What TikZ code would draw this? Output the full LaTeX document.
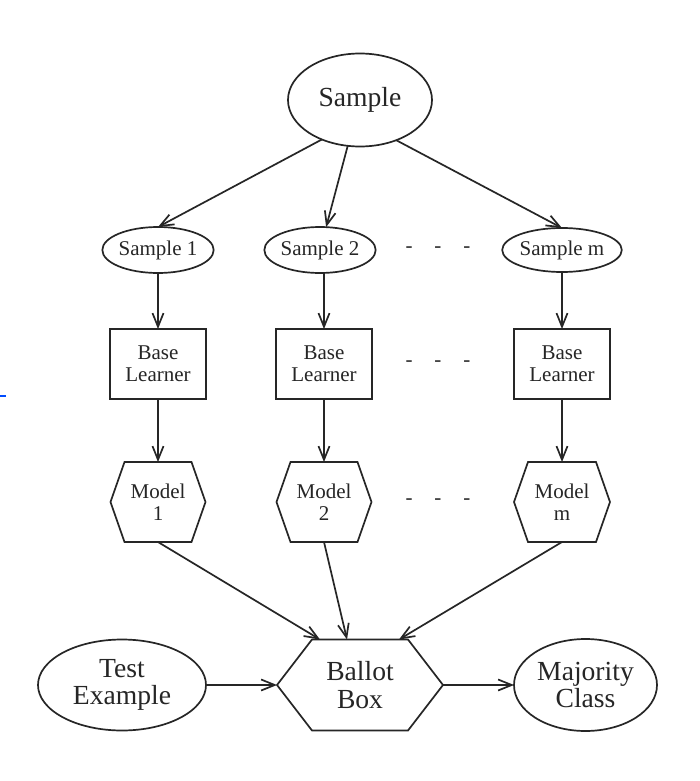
\documentclass[tikz,border=0pt]{standalone}
\usepackage{fontspec}
\setmainfont{Liberation Serif}
\usetikzlibrary{arrows.meta,calc,shapes.geometric}
\definecolor{ink}{HTML}{262626}
\tikzset{
  every node/.style={inner sep=0pt, outer sep=0pt, text=ink},
  oval/.style={ellipse, draw=ink, line width=0.85pt, align=center},
  bigtext/.style={font=\fontsize{13.8pt}{13.6pt}\selectfont},
  smalltext/.style={font=\fontsize{10.5pt}{11.2pt}\selectfont},
  learnerbox/.style={rectangle, draw=ink, line width=0.85pt, align=center,
    minimum width=48pt, minimum height=35pt, smalltext},
  hexholder/.style={rectangle, draw=none, align=center},
  hexline/.style={draw=ink, line width=0.85pt, line join=miter},
  arr/.style={draw=ink, line width=0.85pt, -{Straight Barb[length=6.8pt,width=5.5pt,line width=0.85pt]}},
  dots/.style={smalltext}
}
\newcommand{\hexdraw}[2]{%
  \draw[hexline] (#1.west) -- ($(#1.north west)+(#2,0)$) -- ($(#1.north east)+(-#2,0)$)
    -- (#1.east) -- ($(#1.south east)+(-#2,0)$) -- ($(#1.south west)+(#2,0)$) -- cycle;}
\begin{document}
\begin{tikzpicture}[x=0.5pt,y=-0.5pt]
\useasboundingbox (0,0) rectangle (700,781);
\fill[white] (0,0) rectangle (700,781);

% top sample
\node[oval, bigtext, minimum width=72pt, minimum height=46.5pt] (s) at (360,100) {Sample};

% samples
\node[oval, smalltext, minimum width=54pt, minimum height=23pt] (s1) at (158,250) {Sample 1};
\node[oval, smalltext, minimum width=49pt, minimum height=23pt] (s2) at (320,250) {Sample 2};
\node[oval, smalltext, minimum width=54pt, minimum height=22pt] (s3) at (562,250) {Sample m};

% base learners
\node[learnerbox] (b1) at (158,364) {Base\\Learner};
\node[learnerbox] (b2) at (324,364) {Base\\Learner};
\node[learnerbox] (b3) at (562,364) {Base\\Learner};

% models
\node[hexholder, smalltext, minimum width=47.5pt, minimum height=40pt] (m1) at (158,502) {Model\\1};
\node[hexholder, smalltext, minimum width=47.5pt, minimum height=40pt] (m2) at (324,502) {Model\\2};
\node[hexholder, smalltext, minimum width=48pt, minimum height=40pt] (m3) at (562,502) {Model\\m};
\hexdraw{m1}{14}
\hexdraw{m2}{14}
\hexdraw{m3}{14}

% ballot box
\node[hexholder, bigtext, minimum width=83pt, minimum height=45.5pt] (bb) at (360,685) {Ballot\\Box};
\hexdraw{bb}{35}

% test example and majority class
\node[oval, bigtext, minimum width=84pt, minimum height=45.5pt] (te) at (122,685) {Test\\Example};
\node[oval, bigtext, minimum width=71.5pt, minimum height=46pt] (mc) at (585.5,685) {Majority\\Class};

% dots
\node[dots] (d1) at (438,250) {-\hspace{11pt}-\hspace{11pt}-};
\node[dots] (d2) at (438,364) {-\hspace{11pt}-\hspace{11pt}-};
\node[dots] (d3) at (438,502) {-\hspace{11pt}-\hspace{11pt}-};

% connectors
\draw[arr] (s.226) -- (s1.north);
\draw[arr] (s.255) -- (s2.75);
\draw[arr] (s.312) -- (s3.north);

\draw[arr] (s1.south) -- (b1.north);
\draw[arr] (b2.north |- s2.south) -- (b2.north);
\draw[arr] (s3.south) -- (b3.north);

\draw[arr] (b1.south) -- (m1.north);
\draw[arr] (b2.south) -- (m2.north);
\draw[arr] (b3.south) -- (m3.north);

\draw[arr] (m1.south) -- ($(bb.north west)+(43,0)$);
\draw[arr] (m2.south) -- ($(bb.north west)+(70,0)$);
\draw[arr] (m3.south) -- ($(bb.north west)+(122,0)$);

\draw[arr] (te.east) -- (bb.west);
\draw[arr] (bb.east) -- (mc.west);

% small blue mark at the left edge
\coordinate (bl1) at (0,396);
\coordinate (bl2) at (6,396);
\draw[blue!70!cyan, line width=0.9pt] (bl1) -- (bl2);
\end{tikzpicture}
\end{document}
